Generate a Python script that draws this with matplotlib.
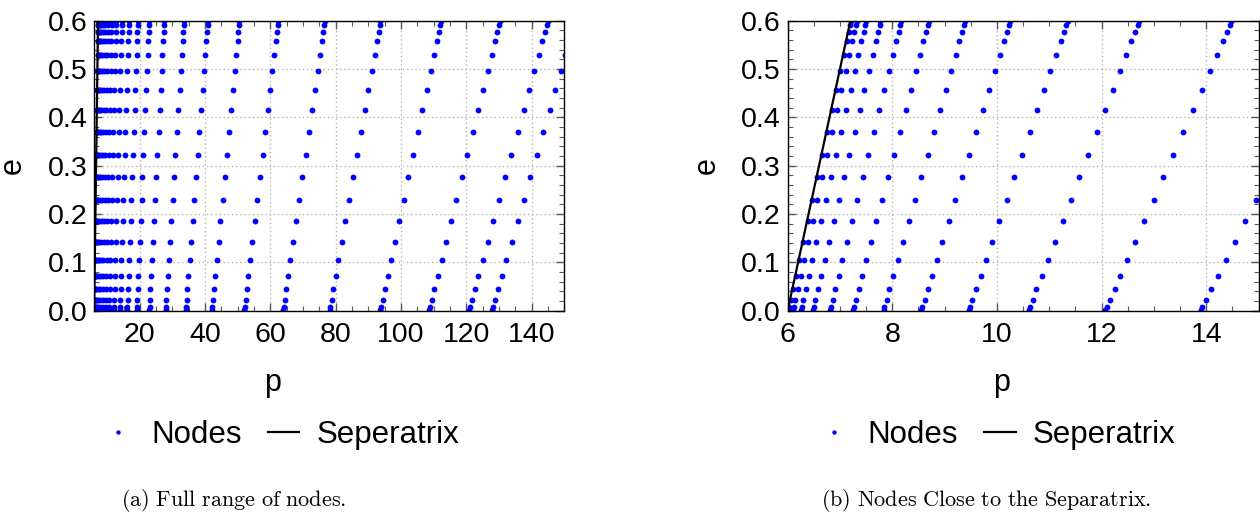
import numpy as np
import matplotlib.pyplot as plt
from matplotlib.ticker import MultipleLocator, FormatStrFormatter

plt.rcParams['font.family'] = ['Liberation Sans', 'DejaVu Sans']
plt.rcParams['mathtext.fontset'] = 'cm'

# eccentricity levels of the node rows
e_levels = [0.001, 0.008, 0.023, 0.044, 0.072, 0.105, 0.143, 0.185, 0.230, 0.276,
            0.323, 0.370, 0.415, 0.457, 0.495, 0.529, 0.557, 0.577, 0.592, 0.599]

# p of each node chain on the e ~ 0 row
p_chain_e0 = [6.01, 6.10, 6.25, 6.48, 6.81, 7.25, 7.83, 8.55, 9.46, 10.60,
              12.07, 13.89, 16.17, 19.05, 22.9, 27.9, 34.05, 42.1, 52.0, 63.9,
              78.1, 93.6, 108.6, 120.8, 127.8]

# separatrix end points
sep_e = [0.0, 0.6]
sep_p = [6.0, 7.2]

# chains keep a fixed ratio to the separatrix
e_arr = np.array(e_levels)
stretch = np.interp(e_arr, sep_e, sep_p) / sep_p[0]
node_p = np.outer(stretch, p_chain_e0).ravel()
node_e = np.repeat(e_arr, len(p_chain_e0))

fig = plt.figure(figsize=(12.6, 5.13), dpi=100)
ax_full = fig.add_axes([0.0747, 0.3944, 0.3732, 0.5653])
ax_zoom = fig.add_axes([0.6251, 0.3944, 0.3738, 0.5653])

panels = [
    (ax_full, (6, 150), 20, 5, 0.38, 0.397, r'$\mathrm{(a)\ Full\ range\ of\ nodes.}$', 234),
    (ax_zoom, (6, 15), 2, 0.5, 0.455, 0.445, r'$\mathrm{(b)\ Nodes\ Close\ to\ the\ Separatrix.}$', 986),
]

for ax, xlim, xmaj, xmin, xlab_pos, leg_pos, caption, cap_x in panels:
    ax.plot(node_p, node_e, 'o', color='blue', ms=4.2, mew=0, label='Nodes')
    ax.plot(sep_p, sep_e, color='black', lw=1.6, label='Seperatrix')
    ax.set_xlim(*xlim)
    ax.set_ylim(0, 0.6)

    ax.xaxis.set_major_locator(MultipleLocator(xmaj))
    ax.xaxis.set_minor_locator(MultipleLocator(xmin))
    ax.yaxis.set_major_locator(MultipleLocator(0.1))
    ax.yaxis.set_minor_locator(MultipleLocator(0.02))
    ax.yaxis.set_major_formatter(FormatStrFormatter('%.1f'))
    ax.tick_params(which='both', direction='in', top=True, right=True,
                   color='0.35', labelsize=20.5)
    ax.tick_params(axis='x', pad=8)
    ax.tick_params(axis='y', pad=5)
    ax.tick_params(which='major', length=6, width=1)
    ax.tick_params(which='minor', length=3.5, width=0.8)
    ax.grid(True, which='major', color='0.7', linestyle=(0, (1, 2)), lw=1)
    for s in ax.spines.values():
        s.set_linewidth(1)

    ax.set_xlabel('p', fontsize=22)
    ax.xaxis.label.set_verticalalignment('center')
    ax.xaxis.set_label_coords(xlab_pos, -0.25)
    ax.set_ylabel('e', fontsize=22)
    ax.yaxis.label.set_verticalalignment('center')
    ax.yaxis.set_label_coords(-0.172, 0.5)

    ax.legend(loc='center', bbox_to_anchor=(leg_pos, -0.429), ncol=2, frameon=False,
              fontsize=22.5, handlelength=1.0, handletextpad=0.55, columnspacing=0.85,
              markerscale=0.75)

    fig.text(cap_x / 1260, 1 - 500 / 513, caption, ha='center', va='center', fontsize=16)

fig.savefig('out.png', dpi=100)
